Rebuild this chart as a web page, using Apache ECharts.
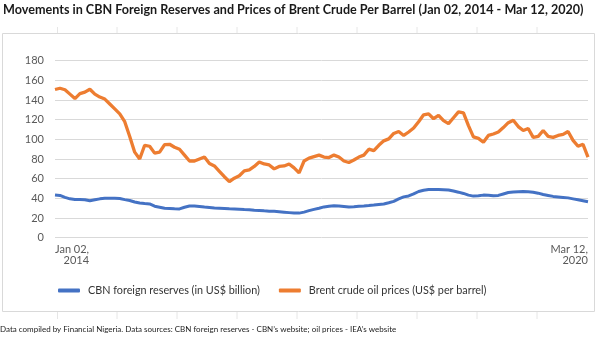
<!DOCTYPE html>
<html><head><meta charset="utf-8">
<script src="https://cdn.jsdelivr.net/npm/echarts@6/dist/echarts.min.js"></script>
<style>html,body{margin:0;padding:0;background:#fff}#c{width:599px;height:338px}</style>
</head><body><div id="c"></div>
<script>
const titleText = 'Movements in CBN Foreign Reserves and Prices of Brent Crude Per Barrel (Jan 02, 2014 - Mar 12, 2020)';
const footerText = 'Data compiled by Financial Nigeria. Data sources: CBN foreign reserves - CBN\u2019s website; oil prices - IEA\u2019s website';
const seriesNames = ['CBN foreign reserves (in US$ billion)', 'Brent crude oil prices (US$ per barrel)'];
const firstLabel = ['Jan 02,', '2014'];
const lastLabel = ['Mar 12,', '2020'];
const yTicks = [0, 20, 40, 60, 80, 100, 120, 140, 160, 180];

const reserves = [43.5,43,41,39.5,38.8,38.8,38.5,37.5,38.5,39.5,40,40,40,39.8,38.7,37.8,36.3,35.2,34.7,34.3,
32,31,30,29.8,29.5,29.3,31,32.3,32.2,31.8,31.2,30.7,30.2,30,29.8,29.5,29.3,29,28.7,28.5,
28,27.7,27.3,27,26.8,26.5,26,25.5,25,25,26,27.5,28.8,30,31.3,32,32.5,32.3,31.8,31.3,
31.5,32,32.3,32.7,33.2,33.8,34.3,35.5,37,39.5,41.5,42.5,44.5,47,48.3,49,49,49,48.8,48.5,
47.5,46.3,45,43.3,42.3,42.7,43.3,43.2,42.7,43,44.5,46,46.5,46.8,47,46.8,46.3,45.3,44,43,
42,41.5,41,40.5,39.5,38.5,37.5,36.5];

const brent = [150.7,152,150.5,146,141.5,146.5,148,151,146,143,141,136,131,126,118,103,87,80,94,93,
86,87,94.7,95,92,90,84,78,78,80,82,75.5,73,67.5,62,57,60.5,63,68,69,
72.5,77,75,74,70,72.5,73,75,71,66,78,81,82.5,84,82,81.5,84,82,78,76.5,
79,82,84,90,88.5,94,98.5,100.5,106,108,104,107.5,111.5,118,125,126,121,124.5,119,116,
122,128,127,114,102.5,101,97,104,105.5,107.5,112,117,119.5,113,109,111,102,103,109,103,
102,104,105,108,99,93,95,82];

// category positions (evenly spaced dates between the two end dates)
const startDate = new Date(Date.UTC(2014,0,2)), endDate = new Date(Date.UTC(2020,2,12));
const N = brent.length;
const cats = [];
for (let i = 0; i < N; i++) {
  const t = new Date(startDate.getTime() + (endDate - startDate) * i / (N - 1));
  cats.push(t.toISOString().slice(0,10));
}

const FONT = 'Lato';
const chart = echarts.init(document.getElementById('c'), null, {renderer:'canvas'});

const gx = [57.5,117,177,237,297,357,417,477,537];
const graphics = [
  {type:'rect', shape:{x:2.5,y:33.5,width:592,height:278}, style:{fill:'none',stroke:'#d9d9d9',lineWidth:1}, z:-1}
];
gx.forEach(x => {
  graphics.push({type:'line', shape:{x1:x,y1:27,x2:x,y2:33}, style:{stroke:'#e6e6e6',lineWidth:1}, z:-1});
  graphics.push({type:'line', shape:{x1:x,y1:312,x2:x,y2:319}, style:{stroke:'#e6e6e6',lineWidth:1}, z:-1});
});

chart.setOption({
  animation:false,
  title:[
    {text:titleText, left:3, top:3, padding:0, textStyle:{fontFamily:FONT, fontSize:12.6, fontWeight:'bold', color:'#1a1a1a'}},
    {text:footerText, left:0, top:325, padding:0, textStyle:{fontFamily:FONT, fontSize:8, fontWeight:'normal', color:'#222'}}
  ],
  graphic: graphics,
  legend:{
    data: seriesNames, left:58, top:285, padding:0, icon:'roundRect', itemWidth:22, itemHeight:4, itemGap:19,
    textStyle:{fontFamily:FONT, fontSize:10.8, color:'#333', padding:[0,0,0,3]}
  },
  grid:{left:55, right:11, top:60.7, bottom:100.3, containLabel:false},
  xAxis:[
    {type:'category', data:cats, boundaryGap:false, position:'bottom',
     axisLine:{show:false}, axisTick:{show:false}, splitLine:{show:false},
     axisLabel:{interval:(i)=> i===0, align:'left', margin:6,
       formatter:(v,i)=> i===0 ? '{a|'+firstLabel[0]+'}\n{a|'+firstLabel[1]+'}' : '',
       rich:{a:{align:'right', fontFamily:FONT, fontSize:11, lineHeight:11, color:'#595959'}}}},
    {type:'category', data:cats, boundaryGap:false, position:'bottom', gridIndex:0,
     axisLine:{show:false}, axisTick:{show:false}, splitLine:{show:false},
     axisLabel:{interval:(i)=> i===N-1, align:'right', margin:6,
       formatter:(v,i)=> i===N-1 ? '{a|'+lastLabel[0]+'}\n{a|'+lastLabel[1]+'}' : '',
       rich:{a:{align:'right', fontFamily:FONT, fontSize:11, lineHeight:11, color:'#595959'}}}}
  ],
  yAxis:{type:'value', min:yTicks[0], max:yTicks[yTicks.length-1], interval:20,
    axisLine:{show:false}, axisTick:{show:false},
    splitLine:{lineStyle:{color:'#d9d9d9', width:1}},
    axisLabel:{margin:11, fontFamily:FONT, fontSize:11, color:'#595959'}},
  series:[
    {name:seriesNames[0], type:'line', data:reserves, xAxisIndex:0, showSymbol:false, symbol:'none',
     lineStyle:{color:'#4472C4', width:3}, itemStyle:{color:'#4472C4'}, z:3},
    {name:seriesNames[1], type:'line', data:brent, xAxisIndex:0, showSymbol:false, symbol:'none',
     lineStyle:{color:'#ED7D31', width:3.3}, itemStyle:{color:'#ED7D31'}, z:2}
  ]
});
</script></body></html>
